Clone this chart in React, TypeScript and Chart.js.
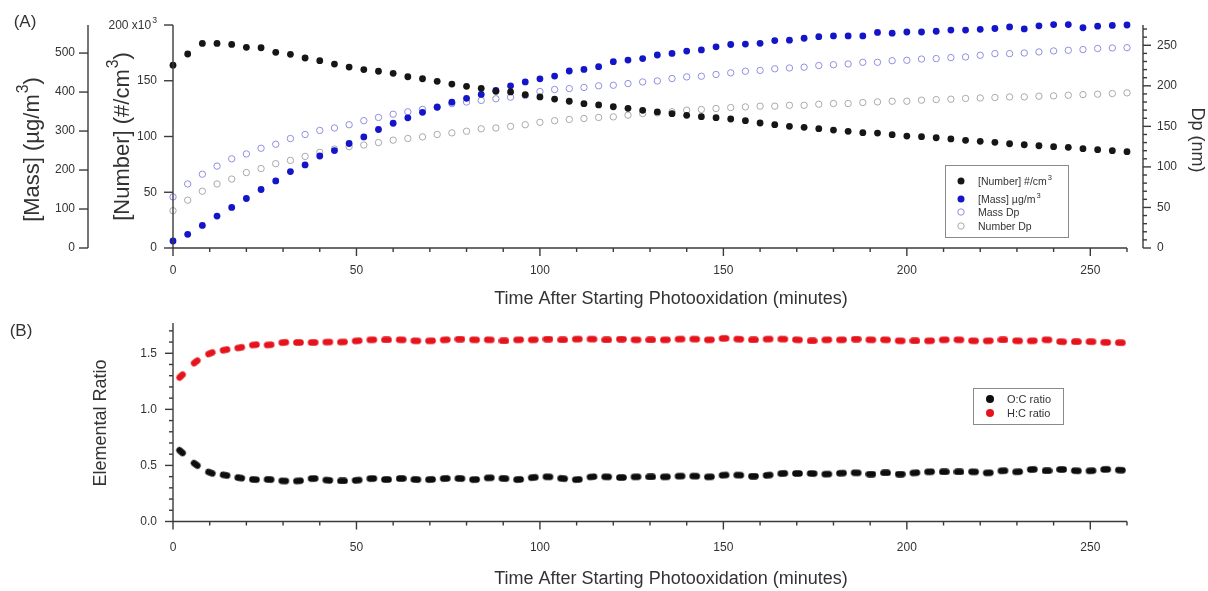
import React, { useEffect, useRef } from 'react';
import { Chart, registerables } from 'chart.js';

Chart.register(...registerables);

// ---------- Panel A data ----------
const timeA = [0, 4, 8, 12, 16, 20, 24, 28, 32, 36, 40, 44, 48, 52, 56, 60, 64, 68, 72, 76, 80, 84, 88, 92, 96, 100, 104, 108, 112, 116, 120, 124, 128, 132, 136, 140, 144, 148, 152, 156, 160, 164, 168, 172, 176, 180, 184, 188, 192, 196, 200, 204, 208, 212, 216, 220, 224, 228, 232, 236, 240, 244, 248, 252, 256, 260];
// number concentration, x10^3 #/cm3
const numberConc = [164, 174, 183.5, 183.5, 182.6, 180, 179.6, 175.5, 173.7, 170.4, 168, 165, 162.3, 160, 158.5, 156.7, 153.6, 151.8, 149.5, 147, 145, 143.2, 140.5, 140, 137.5, 135.5, 133.6, 131.6, 129.4, 128.3, 126.7, 125.3, 123.5, 122, 120.5, 119, 117.8, 116.9, 115.7, 114.2, 112.1, 110.6, 109.1, 108.2, 107, 105.8, 104.6, 103.4, 103.1, 101.6, 100.4, 99.8, 98.9, 97.8, 96.6, 95.7, 94.8, 93.5, 92.6, 91.7, 90.9, 90.3, 89.1, 88.2, 87.3, 86.4];
// mass concentration, ug/m3
const massConc = [18, 35, 58, 82, 104, 127, 150, 172, 196, 213, 236, 250, 268, 285, 304, 320, 334, 348, 361, 374, 384, 394, 404, 416, 426, 434, 441, 454, 458, 465, 478, 482, 486, 495, 499, 505, 508, 516, 522, 523, 525, 532, 533, 538, 542, 544, 544, 544, 553, 551, 554, 554, 556, 559, 559, 561, 563, 567, 562, 570, 573, 573, 565, 569, 571, 572];
// mass-weighted diameter, nm
const massDp = [63, 79, 91, 101, 110, 116, 123, 128, 135, 140, 145, 148, 152, 157, 161, 165, 168, 171, 174, 178, 180, 182, 184, 186, 188, 193, 195.5, 196.6, 198, 200, 200.7, 202.8, 204.8, 206, 209, 211, 211.8, 214, 216, 218, 219, 221, 222, 223, 225, 226, 227, 229, 229, 231, 231.5, 233, 233.6, 234.8, 235.6, 237.7, 239.7, 239.7, 240.5, 241.8, 243, 243.8, 244.7, 246, 246.7, 247];
// number-weighted diameter, nm
const numberDp = [46, 59, 70, 79, 85, 93, 98, 104, 108, 113, 118, 122, 125, 127, 130, 133, 135, 137, 140, 142, 144, 147, 148, 150, 152, 155, 157, 158.5, 159.7, 161, 161.7, 163.8, 165.8, 166.7, 168, 170, 170.8, 172, 173.2, 174, 174.9, 174.9, 176, 176, 177.3, 178.2, 178.2, 179.4, 180.2, 181, 181, 182.3, 183, 183.5, 184.4, 185, 185.6, 186.3, 186.3, 187.2, 187.6, 188.4, 189.2, 189.7, 190.5, 191.3];

// ---------- Panel B data ----------
const timeB = [2.2, 6.2, 10.2, 14.2, 18.2, 22.2, 26.2, 30.2, 34.2, 38.2, 42.2, 46.2, 50.2, 54.2, 58.2, 62.2, 66.2, 70.2, 74.2, 78.2, 82.2, 86.2, 90.2, 94.2, 98.2, 102.2, 106.2, 110.2, 114.2, 118.2, 122.2, 126.2, 130.2, 134.2, 138.2, 142.2, 146.2, 150.2, 154.2, 158.2, 162.2, 166.2, 170.2, 174.2, 178.2, 182.2, 186.2, 190.2, 194.2, 198.2, 202.2, 206.2, 210.2, 214.2, 218.2, 222.2, 226.2, 230.2, 234.2, 238.2, 242.2, 246.2, 250.2, 254.2, 258.2];
const ocRatio = [0.623, 0.509, 0.435, 0.413, 0.389, 0.374, 0.374, 0.362, 0.362, 0.383, 0.368, 0.362, 0.368, 0.383, 0.374, 0.383, 0.374, 0.374, 0.383, 0.383, 0.374, 0.389, 0.383, 0.374, 0.392, 0.398, 0.383, 0.374, 0.398, 0.398, 0.392, 0.398, 0.398, 0.398, 0.404, 0.404, 0.398, 0.413, 0.413, 0.404, 0.413, 0.428, 0.428, 0.428, 0.422, 0.431, 0.434, 0.422, 0.434, 0.422, 0.434, 0.443, 0.443, 0.443, 0.443, 0.434, 0.452, 0.443, 0.464, 0.452, 0.464, 0.452, 0.452, 0.464, 0.458];
const hcRatio = [1.297, 1.423, 1.5, 1.53, 1.55, 1.575, 1.575, 1.596, 1.596, 1.596, 1.6, 1.6, 1.611, 1.62, 1.62, 1.62, 1.611, 1.611, 1.62, 1.626, 1.62, 1.62, 1.611, 1.62, 1.62, 1.626, 1.62, 1.626, 1.626, 1.62, 1.626, 1.62, 1.62, 1.62, 1.626, 1.626, 1.62, 1.632, 1.626, 1.62, 1.626, 1.626, 1.62, 1.611, 1.62, 1.62, 1.626, 1.62, 1.62, 1.611, 1.611, 1.611, 1.62, 1.62, 1.611, 1.611, 1.62, 1.611, 1.611, 1.62, 1.603, 1.603, 1.603, 1.597, 1.594];

// ---------- ticks ----------
const xTicks = [0, 50, 100, 150, 200, 250];
const numberTicks = [0, 50, 100, 150, 200];
const massTicks = [0, 100, 200, 300, 400, 500];
const dpTicks = [0, 50, 100, 150, 200, 250];
const ratioTicks = [0, 0.5, 1.0, 1.5];

const FONT = '"Liberation Sans", Arial, Helvetica, sans-serif';
const AXIS = '#3a3a3a';
const TEXT = '#333333';

type Part = { t: string; sup?: boolean };

function drawRich(ctx: CanvasRenderingContext2D, parts: Part[], x: number, y: number, rot: number, size: number, align: 'left' | 'center' | 'right' = 'center') {
  ctx.save();
  ctx.translate(x, y);
  ctx.rotate(rot);
  const supSize = size * 0.72;
  const widths = parts.map((p) => {
    ctx.font = `${p.sup ? supSize : size}px ${FONT}`;
    return ctx.measureText(p.t).width;
  });
  const total = widths.reduce((a, b) => a + b, 0);
  let cx = align === 'center' ? -total / 2 : align === 'right' ? -total : 0;
  ctx.textAlign = 'left';
  ctx.textBaseline = 'alphabetic';
  ctx.fillStyle = TEXT;
  parts.forEach((p, i) => {
    ctx.font = `${p.sup ? supSize : size}px ${FONT}`;
    const by = size * 0.36 - (p.sup ? size * 0.5 : 0);
    ctx.fillText(p.t, cx + (p.sup ? 1 : 0), by);
    cx += widths[i] + (p.sup ? 1 : 0);
  });
  ctx.restore();
}

function seg(ctx: CanvasRenderingContext2D, x1: number, y1: number, x2: number, y2: number) {
  ctx.beginPath();
  ctx.moveTo(x1, y1);
  ctx.lineTo(x2, y2);
  ctx.stroke();
}

function drawXAxis(ctx: CanvasRenderingContext2D, chart: any, labelY: number, titleY: number) {
  const ca = chart.chartArea;
  const xs = chart.scales.x;
  ctx.strokeStyle = AXIS;
  ctx.lineWidth = 1.4;
  seg(ctx, ca.left, ca.bottom, ca.right, ca.bottom);
  for (let t = 0; t <= xs.max + 1e-6; t += 10) {
    const px = xs.getPixelForValue(t);
    const major = Math.abs(t % 50) < 1e-6;
    seg(ctx, px, ca.bottom, px, ca.bottom + (major ? 8 : 4));
  }
  ctx.fillStyle = TEXT;
  ctx.font = `12px ${FONT}`;
  ctx.textAlign = 'center';
  ctx.textBaseline = 'middle';
  xTicks.forEach((t) => ctx.fillText(String(t), xs.getPixelForValue(t), labelY));
  drawRich(ctx, [{ t: 'Time After Starting Photooxidation (minutes)' }], 671, titleY, 0, 18);
}

function legendDot(ctx: CanvasRenderingContext2D, x: number, y: number, r: number, fill: string | null, stroke: string | null) {
  ctx.beginPath();
  ctx.arc(x, y, r, 0, Math.PI * 2);
  if (fill) {
    ctx.fillStyle = fill;
    ctx.fill();
  }
  if (stroke) {
    ctx.strokeStyle = stroke;
    ctx.lineWidth = 1;
    ctx.stroke();
  }
}

const C_NUM = '#161616';
const C_MASS = '#1414c8';
const C_MASSDP = '#8f8fe0';
const C_NUMDP = '#a9a9a9';
const C_OC = '#0d0d0d';
const C_HC = '#e5141c';

const axesTopPlugin = {
  id: 'axesTop',
  afterDraw(chart: any) {
    const { ctx, chartArea: ca, scales } = chart;
    const yN = scales.yNum;
    const yM = scales.yMass;
    const yD = scales.yDp;
    ctx.save();
    drawXAxis(ctx, chart, 271, 298);

    ctx.strokeStyle = AXIS;
    ctx.lineWidth = 1.4;
    // Number axis (at chart left)
    seg(ctx, ca.left, ca.top, ca.left, ca.bottom);
    numberTicks.forEach((v) => {
      const py = yN.getPixelForValue(v);
      seg(ctx, ca.left - 9, py, ca.left, py);
    });
    ctx.fillStyle = TEXT;
    ctx.font = `12px ${FONT}`;
    ctx.textAlign = 'right';
    ctx.textBaseline = 'middle';
    numberTicks.forEach((v) => {
      const py = yN.getPixelForValue(v);
      if (v === 200) {
        drawRich(ctx, [{ t: '200 x10' }, { t: '3', sup: true }], 156, py, 0, 12, 'right');
      } else {
        ctx.fillText(String(v), 157, py);
      }
    });

    // Mass axis (offset left)
    const mx = 88;
    ctx.strokeStyle = AXIS;
    seg(ctx, mx, ca.top, mx, ca.bottom);
    massTicks.forEach((v) => {
      const py = yM.getPixelForValue(v);
      seg(ctx, mx - 9, py, mx, py);
    });
    ctx.fillStyle = TEXT;
    ctx.font = `12px ${FONT}`;
    ctx.textAlign = 'right';
    massTicks.forEach((v) => ctx.fillText(String(v), 75, yM.getPixelForValue(v)));

    // Dp axis (offset right)
    const dx = 1143;
    ctx.strokeStyle = AXIS;
    seg(ctx, dx, ca.top, dx, ca.bottom);
    for (let v = 0; v <= 270; v += 10) {
      const py = yD.getPixelForValue(v);
      const major = v % 50 === 0;
      seg(ctx, dx, py, dx + (major ? 8 : 4), py);
    }
    ctx.fillStyle = TEXT;
    ctx.font = `12px ${FONT}`;
    ctx.textAlign = 'left';
    dpTicks.forEach((v) => ctx.fillText(String(v), 1157, yD.getPixelForValue(v)));

    // titles
    drawRich(ctx, [{ t: '[Mass] (µg/m' }, { t: '3', sup: true }, { t: ')' }], 31, 150, -Math.PI / 2, 22);
    drawRich(ctx, [{ t: '[Number] (#/cm' }, { t: '3', sup: true }, { t: ')' }], 121, 137, -Math.PI / 2, 22);
    drawRich(ctx, [{ t: 'Dp (nm)' }], 1198, 140, Math.PI / 2, 18);
    drawRich(ctx, [{ t: '(A)' }], 25, 21, 0, 17);

    // legend A
    ctx.strokeStyle = '#8a8a8a';
    ctx.lineWidth = 1;
    ctx.strokeRect(945.5, 165.5, 123, 72);
    legendDot(ctx, 961, 181, 3.5, C_NUM, null);
    legendDot(ctx, 961, 199, 3.5, C_MASS, null);
    legendDot(ctx, 961, 212, 3.2, null, C_MASSDP);
    legendDot(ctx, 961, 226, 3.2, null, C_NUMDP);
    drawRich(ctx, [{ t: '[Number] #/cm' }, { t: '3', sup: true }], 978, 181, 0, 10.5, 'left');
    drawRich(ctx, [{ t: '[Mass] µg/m' }, { t: '3', sup: true }], 978, 199, 0, 10.5, 'left');
    drawRich(ctx, [{ t: 'Mass Dp' }], 978, 212, 0, 10.5, 'left');
    drawRich(ctx, [{ t: 'Number Dp' }], 978, 226, 0, 10.5, 'left');
    ctx.restore();
  },
};

const axesBottomPlugin = {
  id: 'axesBottom',
  afterDraw(chart: any) {
    const { ctx, chartArea: ca, scales } = chart;
    const ys = scales.y;
    ctx.save();
    drawXAxis(ctx, chart, 238, 268);
    ctx.strokeStyle = AXIS;
    ctx.lineWidth = 1.4;
    seg(ctx, ca.left, ca.top, ca.left, ca.bottom);
    for (let i = 0; i <= 17; i++) {
      const v = i / 10;
      const py = ys.getPixelForValue(v);
      const major = i % 5 === 0;
      seg(ctx, ca.left - (major ? 8 : 4), py, ca.left, py);
    }
    ctx.fillStyle = TEXT;
    ctx.font = `12px ${FONT}`;
    ctx.textAlign = 'right';
    ctx.textBaseline = 'middle';
    ratioTicks.forEach((v) => ctx.fillText(v.toFixed(1), 157, ys.getPixelForValue(v)));
    drawRich(ctx, [{ t: 'Elemental Ratio' }], 100, 113, -Math.PI / 2, 18);
    drawRich(ctx, [{ t: '(B)' }], 21, 20, 0, 17);

    // legend B
    ctx.strokeStyle = '#8a8a8a';
    ctx.lineWidth = 1;
    ctx.strokeRect(973.5, 78.5, 90, 36);
    legendDot(ctx, 990, 89, 4, C_OC, null);
    legendDot(ctx, 990, 103, 4, C_HC, null);
    drawRich(ctx, [{ t: 'O:C ratio' }], 1007, 89, 0, 11, 'left');
    drawRich(ctx, [{ t: 'H:C ratio' }], 1007, 103, 0, 11, 'left');
    ctx.restore();
  },
};

function makeBlob(color: string): HTMLCanvasElement {
  const c = document.createElement('canvas');
  c.width = 11;
  c.height = 7;
  const g = c.getContext('2d')!;
  g.fillStyle = color;
  g.beginPath();
  g.arc(3.5, 3.5, 3.3, Math.PI / 2, Math.PI * 1.5);
  g.lineTo(7.5, 0.2);
  g.arc(7.5, 3.5, 3.3, -Math.PI / 2, Math.PI / 2);
  g.closePath();
  g.fill();
  return c;
}

function blobRotation(ctx: any) {
  const data = ctx.dataset.data;
  const i = ctx.dataIndex;
  const a = data[Math.max(0, i - 1)];
  const b = data[Math.min(data.length - 1, i + 1)];
  const xs = ctx.chart.scales.x;
  const ys = ctx.chart.scales.y;
  if (!xs || !ys) return 0;
  const dx = xs.getPixelForValue(b.x) - xs.getPixelForValue(a.x);
  const dy = ys.getPixelForValue(b.y) - ys.getPixelForValue(a.y);
  return (Math.atan2(dy, dx) * 180) / Math.PI;
}

export default function App() {
  const topRef = useRef<HTMLCanvasElement>(null);
  const botRef = useRef<HTMLCanvasElement>(null);

  useEffect(() => {
    document.body.style.margin = '0';
    document.body.style.overflow = 'hidden';
    const pts = (xs: number[], ys: number[]) => xs.map((x, i) => ({ x, y: ys[i] }));

    const top = new Chart(topRef.current!, {
      type: 'scatter',
      data: {
        datasets: [
          { label: '[Number] #/cm3', data: pts(timeA, numberConc), yAxisID: 'yNum', pointRadius: 3.4, pointBackgroundColor: C_NUM, pointBorderWidth: 0, clip: false } as any,
          { label: '[Mass] ug/m3', data: pts(timeA, massConc), yAxisID: 'yMass', pointRadius: 3.4, pointBackgroundColor: C_MASS, pointBorderWidth: 0, clip: false } as any,
          { label: 'Mass Dp', data: pts(timeA, massDp), yAxisID: 'yDp', pointRadius: 3.2, pointBackgroundColor: 'rgba(0,0,0,0)', pointBorderColor: C_MASSDP, pointBorderWidth: 1, clip: false } as any,
          { label: 'Number Dp', data: pts(timeA, numberDp), yAxisID: 'yDp', pointRadius: 3.2, pointBackgroundColor: 'rgba(0,0,0,0)', pointBorderColor: C_NUMDP, pointBorderWidth: 1, clip: false } as any,
        ],
      },
      options: {
        animation: false,
        responsive: false,
        maintainAspectRatio: false,
        events: [],
        layout: { padding: { left: 173, right: 81, top: 25, bottom: 62 } },
        scales: {
          x: { type: 'linear', min: 0, max: 260, display: false },
          yNum: { type: 'linear', position: 'left', min: 0, max: 200, display: false },
          yMass: { type: 'linear', position: 'left', min: 0, max: 572, display: false },
          yDp: { type: 'linear', position: 'right', min: 0, max: 275, display: false },
        },
        plugins: { legend: { display: false }, tooltip: { enabled: false } },
      },
      plugins: [axesTopPlugin],
    });

    const bot = new Chart(botRef.current!, {
      type: 'scatter',
      data: {
        datasets: [
          { label: 'O:C ratio', data: pts(timeB, ocRatio), pointStyle: makeBlob(C_OC), pointRadius: 5, pointRotation: blobRotation, clip: false } as any,
          { label: 'H:C ratio', data: pts(timeB, hcRatio), pointStyle: makeBlob(C_HC), pointRadius: 5, pointRotation: blobRotation, clip: false } as any,
        ],
      },
      options: {
        animation: false,
        responsive: false,
        maintainAspectRatio: false,
        events: [],
        layout: { padding: { left: 173, right: 81, top: 13, bottom: 69.5 } },
        scales: {
          x: { type: 'linear', min: 0, max: 260, display: false },
          y: { type: 'linear', min: 0, max: 1.77, display: false },
        },
        plugins: { legend: { display: false }, tooltip: { enabled: false } },
      },
      plugins: [axesBottomPlugin],
    });

    return () => {
      top.destroy();
      bot.destroy();
    };
  }, []);

  return (
    <div style={{ position: 'relative', width: 1208, height: 591, background: '#fff' }}>
      <canvas ref={topRef} width={1208} height={310} style={{ position: 'absolute', left: 0, top: 0, width: 1208, height: 310 }} />
      <canvas ref={botRef} width={1208} height={281} style={{ position: 'absolute', left: 0, top: 310, width: 1208, height: 281 }} />
    </div>
  );
}
